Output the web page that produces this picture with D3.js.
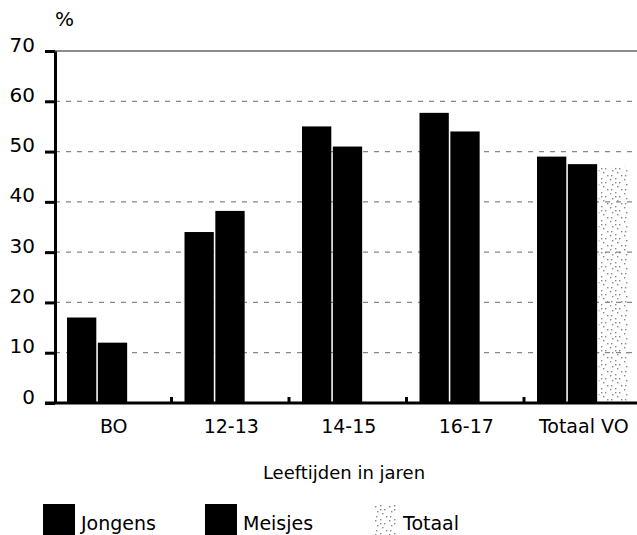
<!DOCTYPE html>
<html>
<head>
<meta charset="utf-8">
<script src="https://cdn.jsdelivr.net/npm/d3@7"></script>
<style>
  body { margin: 0; background: #fff; }
  svg { font-family: "DejaVu Sans", sans-serif; }
</style>
</head>
<body>
<svg id="drawing_region"></svg>
<script>
const categories = ['BO', '12-13', '14-15', '16-17', 'Totaal VO'];
const seriesNames = ['Jongens', 'Meisjes', 'Totaal'];
const jongens = [17, 34, 55, 57.7, 49];
const meisjes = [12, 38.2, 51, 54, 47.5];
const totaal = [null, null, null, null, 47];
const yTicks = [0, 10, 20, 30, 40, 50, 60, 70];

const config = {
    width: 637,
    height: 535,
    margin: { top: 51, right: 0, bottom: 132, left: 55 }
};

const data = categories.map((c, i) => ({
    cat: c,
    values: [
        { key: 'Jongens', value: jongens[i] },
        { key: 'Meisjes', value: meisjes[i] },
        { key: 'Totaal', value: totaal[i] }
    ]
}));

const svg = d3.select('#drawing_region')
    .attr('width', config.width)
    .attr('height', config.height);

// stippled pattern for Totaal
const defs = svg.append('defs');
const pat = defs.append('pattern')
    .attr('id', 'stipple')
    .attr('patternUnits', 'userSpaceOnUse')
    .attr('width', 14).attr('height', 14);
const dots = [[1, 2], [6, 1], [10, 5], [3, 7], [8, 9], [12, 12], [2, 12], [6, 5]];
dots.forEach(d => {
    pat.append('rect').attr('x', d[0]).attr('y', d[1])
        .attr('width', 1.4).attr('height', 1.4).attr('fill', '#888');
});

const innerW = config.width - config.margin.left - config.margin.right;
const innerH = config.height - config.margin.top - config.margin.bottom;

const chart = svg.append('g')
    .attr('transform', `translate(${config.margin.left}, ${config.margin.top})`);

const xscale = d3.scaleBand()
    .domain(categories)
    .range([0, 117.5 * categories.length]);

const xsub = d3.scaleBand()
    .domain(seriesNames)
    .range([12, 103])
    .paddingInner(0.05);

const yscale = d3.scaleLinear()
    .domain([0, 70])
    .range([innerH, 0]);

const fills = { Jongens: '#000', Meisjes: '#000', Totaal: 'url(#stipple)' };

// gridlines
chart.selectAll('.grid')
    .data(yTicks.filter(t => t > 0))
    .enter()
    .append('line')
    .attr('x1', 0)
    .attr('x2', innerW)
    .attr('y1', d => yscale(d))
    .attr('y2', d => yscale(d))
    .attr('stroke', d => d === 70 ? '#666' : '#888')
    .attr('stroke-width', d => d === 70 ? 1.5 : 1.2)
    .attr('stroke-dasharray', d => d === 70 ? null : '5,6');

// bars
const groups = chart.selectAll('.group')
    .data(data)
    .enter()
    .append('g')
    .attr('transform', d => `translate(${xscale(d.cat)}, 0)`);

groups.selectAll('rect')
    .data(d => d.values.filter(v => v.value != null))
    .enter()
    .append('rect')
    .attr('x', d => xsub(d.key))
    .attr('width', xsub.bandwidth())
    .attr('y', d => yscale(d.value))
    .attr('height', d => innerH - yscale(d.value))
    .attr('fill', d => fills[d.key]);

// y axis
const yaxis = d3.axisLeft(yscale)
    .tickValues(yTicks)
    .tickSize(10)
    .tickPadding(10)
    .tickSizeOuter(0);

const yg = chart.append('g').call(yaxis);
yg.attr('font-family', '"DejaVu Sans", sans-serif');
yg.select('.domain').attr('stroke-width', 3);
yg.selectAll('.tick line').attr('stroke-width', 3);
yg.selectAll('.tick text')
    .attr('font-size', 20)
    .attr('fill', '#000')
    .attr('dy', 0)
    .attr('y', 0);

// x axis
const xaxis = d3.axisBottom(xscale)
    .tickSize(0)
    .tickPadding(30)
    .tickSizeOuter(0);

const xg = chart.append('g')
    .attr('transform', `translate(0, ${innerH})`)
    .call(xaxis);
xg.attr('font-family', '"DejaVu Sans", sans-serif');
xg.select('.domain').remove();
xg.append('line')
    .attr('x1', -10).attr('x2', innerW)
    .attr('y1', 0).attr('y2', 0)
    .attr('stroke', '#000').attr('stroke-width', 3);
xg.selectAll('.tick text')
    .attr('font-size', 19)
    .attr('fill', '#000')
    .attr('dy', 0);

// small separators between groups
xg.selectAll('.sep')
    .data(categories.slice(1))
    .enter()
    .append('line')
    .attr('x1', d => xscale(d) - 1)
    .attr('x2', d => xscale(d) - 1)
    .attr('y1', 0).attr('y2', -6)
    .attr('stroke', '#000').attr('stroke-width', 3);

// unit label
svg.append('text')
    .attr('x', 55).attr('y', 26)
    .attr('font-size', 20)
    .text('%');

// x axis title
svg.append('text')
    .attr('x', 344).attr('y', 479)
    .attr('text-anchor', 'middle')
    .attr('font-size', 18)
    .text('Leeftijden in jaren');

// legend
const legendX = [43, 205, 374];
const legend = svg.selectAll('.legend')
    .data(seriesNames)
    .enter()
    .append('g')
    .attr('transform', (d, i) => `translate(${legendX[i]}, 504)`);

legend.append('rect')
    .attr('width', d => d === 'Totaal' ? 22 : 32)
    .attr('height', 32)
    .attr('fill', d => fills[d]);

legend.append('text')
    .attr('x', d => d === 'Totaal' ? 29 : 38)
    .attr('y', 26)
    .attr('font-size', 19)
    .text(d => d);
</script>
</body>
</html>
